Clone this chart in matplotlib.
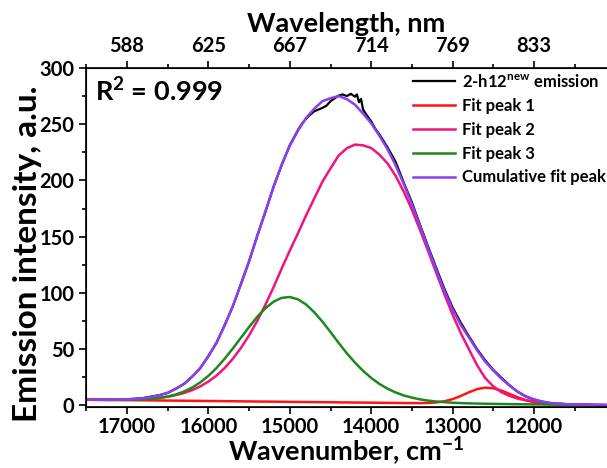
import matplotlib
matplotlib.use('Agg')
import matplotlib.pyplot as plt
from matplotlib.ticker import MultipleLocator

plt.rcParams['font.family'] = ['Lato', 'DejaVu Sans']
plt.rcParams['font.weight'] = 'bold'
plt.rcParams['axes.labelweight'] = 'bold'
plt.rcParams['mathtext.fontset'] = 'custom'
plt.rcParams['mathtext.rm'] = 'Lato:bold'
plt.rcParams['mathtext.bf'] = 'Lato:bold'
plt.rcParams['mathtext.default'] = 'rm'

# wavenumber grid of the fitted curves, cm-1
wavenumber = [17600, 17400, 17200,
              17000, 16900, 16800, 16700, 16600, 16500, 16400, 16300, 16200, 16100,
              16000, 15900, 15800, 15700, 15600, 15500, 15400, 15300, 15200, 15100,
              15000, 14900, 14800, 14700, 14600, 14500, 14400, 14300, 14200, 14100,
              14000, 13900, 13800, 13700, 13600, 13500, 13400, 13300, 13200, 13100,
              13000, 12900, 12800, 12700, 12600, 12500, 12400, 12300, 12200, 12100,
              12000, 11900, 11800, 11700, 11600,
              11400, 11200, 11000]

fit_peak1 = [5.1, 4.9, 4.8,
             4.62, 4.55, 4.47, 4.40, 4.32, 4.24, 4.17, 4.09, 4.01, 3.94,
             3.86, 3.79, 3.71, 3.64, 3.56, 3.48, 3.41, 3.33, 3.26, 3.18,
             3.10, 3.03, 2.95, 2.88, 2.80, 2.73, 2.65, 2.57, 2.50, 2.42,
             2.35, 2.27, 2.20, 2.12, 2.04, 2.00, 1.99, 2.13, 2.59, 3.63,
             5.52, 8.31, 11.57, 14.40, 15.75, 15.17, 13.09, 10.16, 7.13, 4.60,
             2.79, 1.68, 1.07, 0.76, 0.58,
             0.40, 0.25, 0.15]

fit_peak2 = [5.1, 4.95, 4.9,
             5.08, 5.26, 5.54, 6.00, 6.72, 7.64, 9.07, 10.99, 13.51, 16.84,
             21.16, 26.49, 33.21, 41.44, 51.06, 62.28, 75.11, 89.43, 105.06, 121.68,
             137.6, 153.03, 168.95, 183.88, 198.8, 210.73, 222.15, 228.57, 231.90, 231.22,
             228.85, 222.97, 215.20, 204.12, 190.04, 173.97, 155.89, 136.92, 117.74, 98.67,
             80.59, 64.31, 49.94, 35.76, 24.29, 16.91, 11.63, 8.36, 5.98, 4.41,
             3.43, 2.50, 1.78, 1.31, 0.98,
             0.55, 0.3, 0.15]

fit_peak3 = [5.1, 4.9, 4.85,
             4.89, 5.04, 5.31, 5.81, 6.60, 7.84, 9.67, 12.26, 15.79, 20.42,
             26.23, 33.30, 41.49, 50.58, 60.15, 69.72, 78.69, 86.37, 92.17, 95.59,
             96.34, 94.28, 89.66, 82.79, 74.46, 65.15, 55.55, 46.32, 38.02, 30.65,
             24.34, 19.08, 14.82, 11.44, 8.81, 6.82, 5.31, 4.20, 3.38, 2.78,
             2.34, 2.00, 1.76, 1.57, 1.42, 1.29, 1.18, 1.06, 0.98, 0.91,
             0.83, 0.75, 0.68, 0.61, 0.53,
             0.38, 0.2, 0.1]

cumulative = [5.1, 4.95, 4.95,
              5.35, 5.75, 6.38, 7.41, 9.00, 11.24, 14.57, 19.16, 25.29, 33.32,
              43.53, 56.00, 70.99, 88.38, 107.65, 128.52, 150.39, 172.47, 193.97, 214.09,
              230.84, 244.28, 255.66, 263.79, 270.46, 273.15, 275.05, 272.32, 267.42, 259.45,
              250.84, 239.78, 227.82, 213.44, 196.81, 178.85, 159.41, 139.61, 120.23, 101.74,
              85.27, 71.60, 60.39, 49.01, 38.88, 30.95, 23.64, 17.46, 12.13, 8.10,
              5.39, 3.43, 2.17, 1.46, 1.03,
              0.55, 0.3, 0.15]

# measured emission (noisy near the maximum)
emission_wn = [17600, 17300, 17000, 16800, 16600, 16500, 16400, 16300, 16200, 16100,
               16000, 15900, 15800, 15700, 15600, 15500, 15400, 15300, 15200, 15100,
               15000, 14950, 14900, 14850, 14800, 14750, 14700, 14650, 14600, 14550,
               14500, 14450, 14400, 14350, 14300, 14250, 14200, 14175, 14150, 14125,
               14100, 14050, 14000, 13950, 13900, 13800, 13750, 13700, 13600, 13500,
               13400, 13300, 13200, 13100, 13000, 12900, 12800, 12700, 12600, 12500,
               12400, 12300, 12200, 12100, 12000, 11900, 11800, 11600, 11400, 11200,
               11000]
emission = [5.0, 5.1, 5.3, 6.5, 9.1, 11.0, 14.9, 19.0, 25.6, 33.0,
            44.0, 55.6, 71.5, 88.0, 108.2, 128.0, 151.0, 172.0, 194.5, 213.5,
            231.5, 238.0, 244.8, 250.5, 255.0, 258.5, 261.5, 263.0, 264.5, 266.5,
            270.5, 273.0, 275.5, 276.5, 275.0, 277.0, 274.5, 276.5, 269.5, 272.5,
            263.0, 257.5, 252.5, 246.0, 241.0, 229.5, 223.0, 216.5, 198.0, 180.5,
            160.5, 141.0, 122.0, 103.5, 87.0, 73.5, 61.5, 50.0, 40.0, 31.5,
            24.5, 17.8, 12.0, 7.8, 5.0, 3.3, 2.0, 1.0, 0.5, 0.3,
            0.2]

major_wn = [17000, 16000, 15000, 14000, 13000, 12000]
wavelength_labels = ['588', '625', '667', '714', '769', '833']

fig = plt.figure(figsize=(6.07, 4.68), dpi=100)
ax = fig.add_axes([0.1417, 0.1303, 0.8583, 0.7244])

ax.plot(emission_wn, emission, color='black', lw=1.6, label='2-h12$^{new}$ emission')
ax.plot(wavenumber, fit_peak1, color='#ff1414', lw=1.8, label='Fit peak 1')
ax.plot(wavenumber, fit_peak2, color='#f0147c', lw=1.8, label='Fit peak 2')
ax.plot(wavenumber, fit_peak3, color='#1b8a1b', lw=1.8, label='Fit peak 3')
ax.plot(wavenumber, cumulative, color='#8a3ff2', lw=1.8, label='Cumulative fit peak')

ax.set_xlim(17504, 11103)
ax.set_ylim(-1.5, 300)
ax.set_xticks(major_wn)
ax.xaxis.set_minor_locator(MultipleLocator(500))
ax.yaxis.set_major_locator(MultipleLocator(50))
ax.yaxis.set_minor_locator(MultipleLocator(25))
ax.tick_params(which='both', direction='out', width=1.2, labelsize=14.5)
ax.tick_params(which='major', length=5)
ax.tick_params(which='minor', length=3)
ax.tick_params(axis='x', pad=2)
ax.spines['right'].set_visible(False)
for s in ['left', 'bottom', 'top']:
    ax.spines[s].set_linewidth(1.2)

ax.set_xlabel('Wavenumber, cm$^{-1}$', fontsize=19.5, labelpad=-0.5)
ax.set_ylabel('Emission intensity, a.u.', fontsize=24)
ax.yaxis.set_label_coords(-0.085, 0.453)

ax2 = ax.twiny()
ax2.set_xlim(ax.get_xlim())
ax2.set_xticks(major_wn)
ax2.set_xticklabels(wavelength_labels)
ax2.xaxis.set_minor_locator(MultipleLocator(500))
ax2.tick_params(which='both', direction='out', width=1.2, labelsize=14.5)
ax2.tick_params(which='major', length=5)
ax2.tick_params(which='minor', length=3)
ax2.spines['right'].set_visible(False)
ax2.set_xlabel('Wavelength, nm', fontsize=19.5, labelpad=3)

ax.text(0.017, 0.975, 'R$^2$ = 0.999', transform=ax.transAxes, fontsize=19.5,
        va='top', ha='left')

ax.legend(loc='upper left', bbox_to_anchor=(0.6276, 0.985), frameon=False,
          fontsize=12, handlelength=2.5, handletextpad=0.45, labelspacing=0.47,
          borderpad=0, borderaxespad=0)

fig.savefig('out.png', dpi=100)
